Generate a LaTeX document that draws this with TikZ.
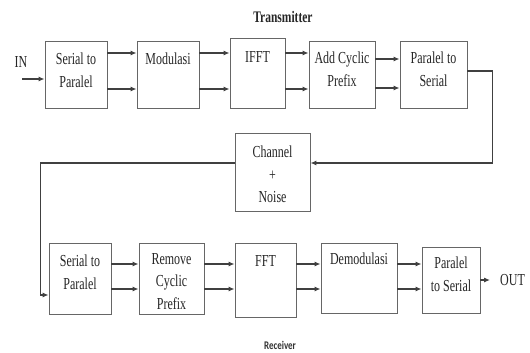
\documentclass[tikz,border=0pt]{standalone}
\usepackage{fontspec}
\usepackage{graphicx}
\setmainfont{Liberation Serif}
\newfontfamily\rcvfont{Carlito}
\usetikzlibrary{arrows.meta}
\newcommand\vs[1]{\scalebox{1}[1.4]{#1}}
\newcommand\fs{\fontsize{12}{22.5}\selectfont}
\tikzset{
  box/.style={draw=black!60, line width=0.9pt, inner sep=0pt},
  lab/.style={anchor=north, inner sep=0pt, align=center, font=\fs, text=black!85},
  arr/.style={draw=black!75, line width=1.1pt, -{Latex[length=6pt,width=5pt]}},
  txt/.style={inner sep=0pt, font=\fs, text=black!85},
}
\begin{document}
\begin{tikzpicture}[x=1pt,y=-1pt]
\useasboundingbox[fill=white] (0,0) rectangle (530,353);

\node[font=\bfseries\fontsize{11.5}{12}\selectfont, text=black!85] (title) at (283,17) {\scalebox{1}[1.4]{Transmitter}};
\node[font=\rcvfont\bfseries\fontsize{9}{10}\selectfont, text=black!80] (rtitle) at (280,345) {\scalebox{1}[1.3]{Receiver}};

% transmitter
\node[box, minimum width=62pt, minimum height=67pt, label={[lab,yshift=-12.3pt]north:{\vs{Serial to}\\\vs{Paralel}}}] (TSP) at (76,74.5) {};
\node[box, minimum width=62pt, minimum height=67pt, label={[lab,yshift=-12.3pt]north:{\vs{Modulasi}}}] (TMod) at (168,74.5) {};
\node[box, minimum width=55pt, minimum height=70pt, label={[lab,yshift=-13.3pt]north:{\vs{IFFT}}}] (TIFFT) at (257.5,73) {};
\node[box, minimum width=66pt, minimum height=67pt, label={[lab,yshift=-11.3pt]north:{\vs{Add Cyclic}\\\vs{Prefix}}}] (TACP) at (342,74.5) {};
\node[box, minimum width=67pt, minimum height=67pt, label={[lab,yshift=-11.3pt]north:{\vs{Paralel to}\\\vs{Serial}}}] (TPS) at (433.5,74.5) {};

% channel
\node[box, minimum width=75pt, minimum height=78pt, label={[lab,yshift=-13.3pt]north:{\vs{Channel}\\\vs{+}\\\vs{Noise}}}] (Chan) at (272.5,172) {};

% receiver
\node[box, minimum width=62pt, minimum height=71pt, label={[lab,yshift=-12.3pt]north:{\vs{Serial to}\\\vs{Paralel}}}] (RSP) at (80,278.5) {};
\node[box, minimum width=65pt, minimum height=71pt, label={[lab,yshift=-10.3pt]north:{\vs{Remove}\\\vs{Cyclic}\\\vs{Prefix}}}] (RRCP) at (171.5,278.5) {};
\node[box, minimum width=61pt, minimum height=74pt, label={[lab,yshift=-12.3pt]north:{\vs{FFT}}}] (RFFT) at (265.5,280) {};
\node[box, minimum width=76pt, minimum height=70pt, label={[lab,yshift=-10.3pt]north:{\vs{Demodulasi}}}] (RDem) at (359,278) {};
\node[box, minimum width=58pt, minimum height=66pt, label={[lab,yshift=-10.3pt]north:{\vs{Paralel}\\\vs{to Serial}}}] (RPS) at (451,280) {};

% IN / OUT
\coordinate (inpt) at (22,79);
\node[txt] (IN) at (21,62) {\vs{IN}};
\draw[arr] (inpt) -- ([yshift=-4.5pt]TSP.west);
\coordinate (outpt) at (490,280);
\node[txt, anchor=west] (OUT) at (500,280) {\vs{OUT}};
\draw[arr] (RPS.east) -- (outpt);

% transmitter arrows
\draw[arr] ([yshift=21.5pt]TSP.east) -- ([yshift=21.5pt]TMod.west);
\draw[arr] ([yshift=-14.5pt]TSP.east) -- ([yshift=-14.5pt]TMod.west);
\draw[arr] ([yshift=21.5pt]TMod.east) -- ([yshift=20pt]TIFFT.west);
\draw[arr] ([yshift=-14.5pt]TMod.east) -- ([yshift=-16pt]TIFFT.west);
\draw[arr] ([yshift=20pt]TIFFT.east) -- ([yshift=21.5pt]TACP.west);
\draw[arr] ([yshift=-16pt]TIFFT.east) -- ([yshift=-14.5pt]TACP.west);
\draw[arr] ([yshift=15.5pt]TACP.east) -- ([yshift=15.5pt]TPS.west);
\draw[arr] ([yshift=-13.5pt]TACP.east) -- ([yshift=-13.5pt]TPS.west);

% to channel and back
\draw[arr] ([yshift=3.5pt]TPS.east) -- ++(25,0) |- ([yshift=9pt]Chan.east);
\draw[arr] ([yshift=9pt]Chan.west) -| ([xshift=-8pt,yshift=-16.5pt]RSP.west) -- ([yshift=-16.5pt]RSP.west);

% receiver arrows
\draw[arr] ([yshift=14.5pt]RSP.east) -- ([yshift=14.5pt]RRCP.west);
\draw[arr] ([yshift=-10.5pt]RSP.east) -- ([yshift=-10.5pt]RRCP.west);
\draw[arr] ([yshift=14.5pt]RRCP.east) -- ([yshift=16pt]RFFT.west);
\draw[arr] ([yshift=-10.5pt]RRCP.east) -- ([yshift=-9pt]RFFT.west);
\draw[arr] ([yshift=16pt]RFFT.east) -- ([yshift=14pt]RDem.west);
\draw[arr] ([yshift=-9pt]RFFT.east) -- ([yshift=-11pt]RDem.west);
\draw[arr] ([yshift=14pt]RDem.east) -- ([yshift=16pt]RPS.west);
\draw[arr] ([yshift=-11pt]RDem.east) -- ([yshift=-9pt]RPS.west);
\end{tikzpicture}
\end{document}
